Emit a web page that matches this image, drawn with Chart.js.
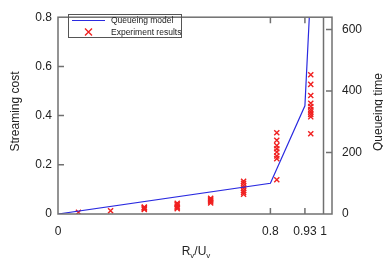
<!DOCTYPE html>
<html>
<head>
<meta charset="utf-8">
<script src="https://cdn.jsdelivr.net/npm/chart.js@4"></script>
<style>
  html, body { margin: 0; padding: 0; background: #fff; }
</style>
</head>
<body>
<canvas id="chart" width="383" height="263"></canvas>
<script>
const FONT = "'Liberation Sans', Arial, sans-serif";
const TEXT = "#222";
const FRAME = "#707070";

// queueing model (streaming cost vs load ratio Rv/Uv)
const modelX = [0, 0.8, 0.93, 0.95];
const modelCost = [0, 0.125, 0.44, 0.876];

// experiment results, one list of costs per load ratio
const expX = [0.077, 0.198, 0.325, 0.449, 0.575, 0.699, 0.824, 0.952];
const expCost = [
  [0.007],
  [0.013],
  [0.018, 0.022, 0.026, 0.028],
  [0.022, 0.027, 0.032, 0.038, 0.044],
  [0.045, 0.05, 0.055, 0.06, 0.064],
  [0.08, 0.088, 0.095, 0.105, 0.115, 0.125, 0.133],
  [0.139, 0.225, 0.236, 0.252, 0.265, 0.278, 0.30, 0.33],
  [0.326, 0.395, 0.405, 0.415, 0.425, 0.437, 0.45, 0.482, 0.527, 0.566]
];

const xTicks = [0, 0.8, 0.93, 1];
const xTickLabels = ["0", "0.8", "0.93", "1"];
const costTicks = [0, 0.2, 0.4, 0.6, 0.8];
const timeTicks = [0, 200, 400, 600];

const modelData = modelX.map((x, i) => ({ x, y: modelCost[i] }));
const expData = expX.flatMap((x, i) => expCost[i].map(y => ({ x, y })));

const TICK = 6;

const decor = {
  id: "decor",
  afterDatasetsDraw(chart) {
    const { ctx, chartArea: a, scales } = chart;
    const x = scales.x, y = scales.y, yt = scales.yTime;
    ctx.save();
    ctx.strokeStyle = FRAME;
    ctx.lineWidth = 1.5;
    // vertical line at Rv/Uv = 1
    const x1 = x.getPixelForValue(1);
    ctx.beginPath();
    ctx.moveTo(x1, a.top);
    ctx.lineTo(x1, a.bottom);
    ctx.stroke();
    // frame
    ctx.strokeRect(a.left, a.top, a.right - a.left, a.bottom - a.top);
    // inward ticks
    ctx.beginPath();
    [0.8, 0.93].forEach(v => {
      const px = x.getPixelForValue(v);
      ctx.moveTo(px, a.bottom); ctx.lineTo(px, a.bottom - TICK);
      ctx.moveTo(px, a.top); ctx.lineTo(px, a.top + TICK);
    });
    [0.2, 0.4, 0.6].forEach(v => {
      const py = y.getPixelForValue(v);
      ctx.moveTo(a.left, py); ctx.lineTo(a.left + TICK, py);
    });
    [200, 400, 600].forEach(v => {
      const py = yt.getPixelForValue(v);
      ctx.moveTo(a.right, py); ctx.lineTo(a.right - TICK, py);
    });
    ctx.stroke();
    ctx.restore();
  },
  afterDraw(chart) {
    const { ctx } = chart;
    const ds = chart.data.datasets;
    ctx.save();
    ctx.fillStyle = TEXT;

    // axis titles
    ctx.font = "12px " + FONT;
    ctx.textAlign = "center";
    ctx.textBaseline = "alphabetic";
    ctx.save();
    ctx.translate(19, 111.5);
    ctx.rotate(-Math.PI / 2);
    ctx.fillText("Streaming cost", 0, 0);
    ctx.restore();
    ctx.save();
    ctx.translate(382, 112);
    ctx.rotate(-Math.PI / 2);
    ctx.fillText("Queueing time", 0, 0);
    ctx.restore();

    // x title with subscripts: Rv/Uv
    const parts = [["R", false], ["v", true], ["/U", false], ["v", true]];
    const big = "12px " + FONT, small = "8px " + FONT;
    let total = 0;
    parts.forEach(([t, sub]) => { ctx.font = sub ? small : big; total += ctx.measureText(t).width; });
    let cx = 196 - total / 2;
    ctx.textAlign = "left";
    parts.forEach(([t, sub]) => {
      ctx.font = sub ? small : big;
      ctx.fillText(t, cx, sub ? 258 : 255);
      cx += ctx.measureText(t).width;
    });

    // legend
    ctx.strokeStyle = "#555";
    ctx.lineWidth = 1;
    ctx.strokeRect(68.5, 14.5, 113, 23);
    ctx.strokeStyle = ds[0].borderColor;
    ctx.lineWidth = ds[0].borderWidth;
    ctx.beginPath();
    ctx.moveTo(72, 20.5); ctx.lineTo(105, 20.5);
    ctx.stroke();
    ctx.strokeStyle = ds[1].borderColor;
    ctx.lineWidth = ds[1].borderWidth;
    const r = 3.5, mx = 88.5, my = 32;
    ctx.beginPath();
    ctx.moveTo(mx - r, my - r); ctx.lineTo(mx + r, my + r);
    ctx.moveTo(mx - r, my + r); ctx.lineTo(mx + r, my - r);
    ctx.stroke();
    ctx.font = "8.5px " + FONT;
    ctx.textBaseline = "middle";
    ctx.fillText(ds[0].label, 111, 21);
    ctx.fillText(ds[1].label, 111, 32.5);
    ctx.restore();
  }
};

const tickFont = { family: FONT, size: 12 };

new Chart(document.getElementById("chart"), {
  type: "scatter",
  data: {
    datasets: [
      {
        label: "Queueing model",
        data: modelData,
        showLine: true,
        borderColor: "#2a2ae0",
        borderWidth: 1.2,
        pointRadius: 0,
        yAxisID: "y"
      },
      {
        label: "Experiment results",
        data: expData,
        showLine: false,
        pointStyle: "crossRot",
        pointRadius: 3.6,
        borderColor: "#f02020",
        backgroundColor: "#f02020",
        borderWidth: 1.4,
        yAxisID: "y"
      }
    ]
  },
  options: {
    responsive: false,
    animation: false,
    devicePixelRatio: 1,
    layout: { padding: { top: 8, left: 0, right: 0, bottom: 0 } },
    plugins: { legend: { display: false }, tooltip: { enabled: false } },
    scales: {
      x: {
        type: "linear",
        min: 0,
        max: 1.032,
        afterBuildTicks: s => { s.ticks = xTicks.map(v => ({ value: v })); },
        afterFit: s => { s.height = 49; },
        grid: { display: false, drawTicks: false },
        border: { display: false },
        ticks: {
          font: tickFont, color: TEXT, padding: 10, maxRotation: 0, autoSkip: false,
          callback: v => xTickLabels[xTicks.indexOf(v)]
        }
      },
      y: {
        position: "left",
        min: 0,
        max: 0.8,
        afterBuildTicks: s => { s.ticks = costTicks.map(v => ({ value: v })); },
        afterFit: s => { s.width = 58; },
        grid: { display: false, drawTicks: false },
        border: { display: false },
        ticks: {
          font: tickFont, color: TEXT, padding: 6,
          callback: v => (v === 0 ? "0" : v.toFixed(1))
        }
      },
      yTime: {
        position: "right",
        min: 0,
        max: 640,
        afterBuildTicks: s => { s.ticks = timeTicks.map(v => ({ value: v })); },
        afterFit: s => { s.width = 51; },
        grid: { display: false, drawTicks: false },
        border: { display: false },
        ticks: { font: tickFont, color: TEXT, padding: 10 }
      }
    }
  },
  plugins: [decor]
});
</script>
</body>
</html>
